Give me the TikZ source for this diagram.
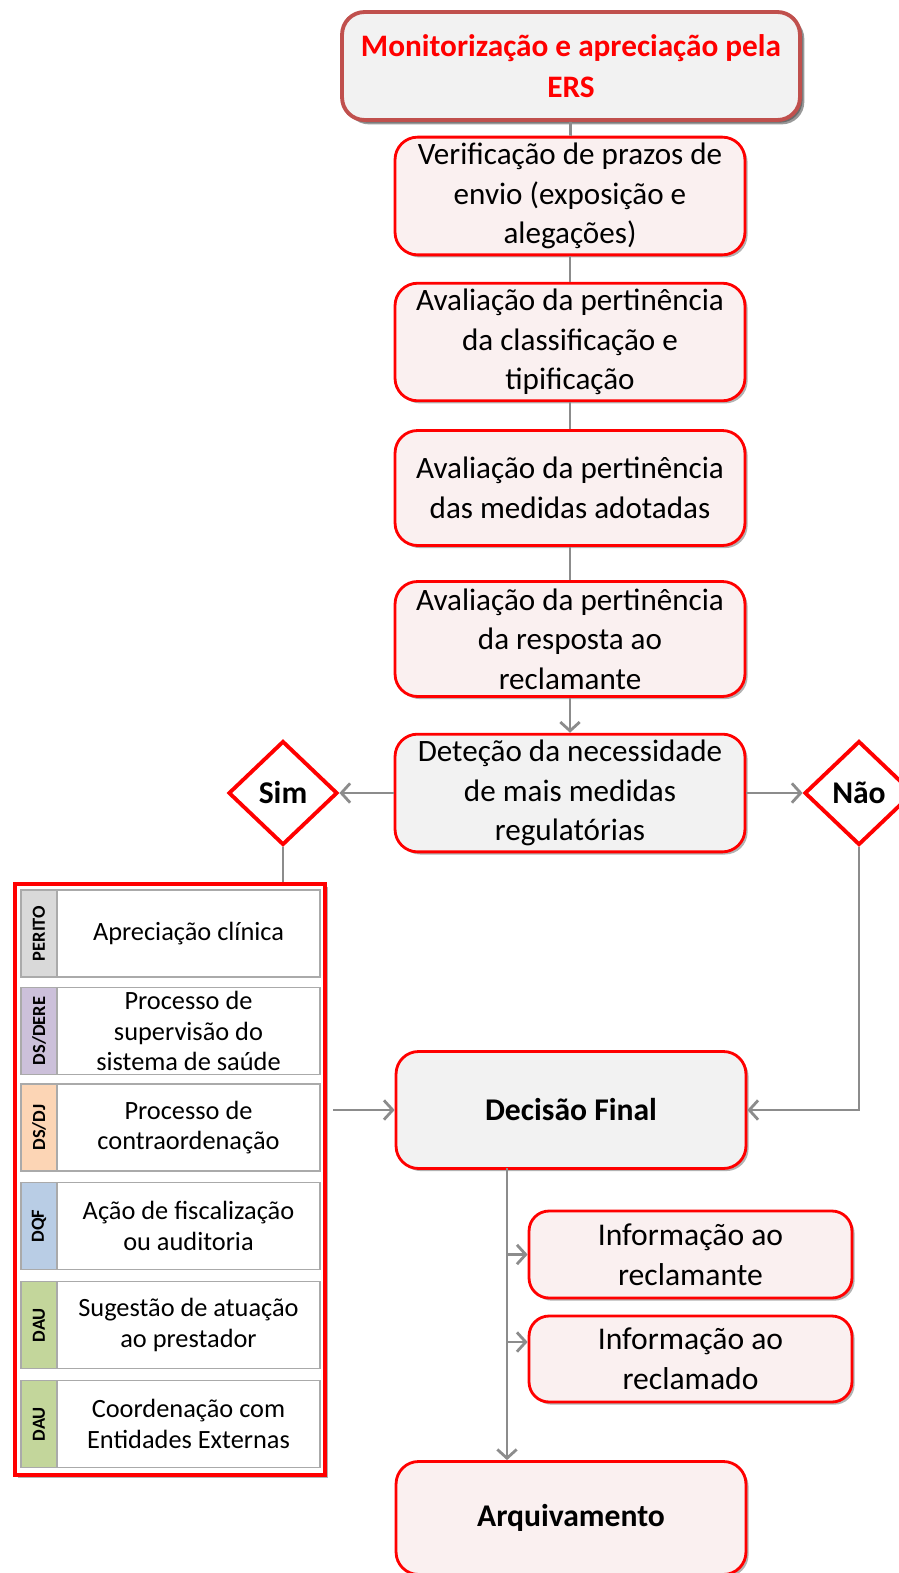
\documentclass[tikz,border=0pt]{standalone}
\usepackage{fontspec}
\setmainfont{Carlito}
\usetikzlibrary{shapes.geometric,arrows.meta,shadows}

\definecolor{vermelho}{RGB}{255,0,0}
\definecolor{bordo}{RGB}{192,80,77}
\definecolor{rosa}{RGB}{250,240,240}
\definecolor{cinza}{RGB}{242,242,242}
\definecolor{linha}{RGB}{140,140,140}
\definecolor{grelha}{RGB}{170,170,170}
\definecolor{corperito}{RGB}{217,217,217}
\definecolor{cordere}{RGB}{204,192,218}
\definecolor{cordj}{RGB}{252,213,181}
\definecolor{cordqf}{RGB}{185,205,229}
\definecolor{cordau}{RGB}{195,214,155}

\begin{document}
\begin{tikzpicture}[x=0.02cm, y=-0.02cm]
                \tikzstyle{sombra}=[drop shadow={shadow xshift=1.5pt, shadow yshift=-1.5pt, opacity=0.3, fill=black}]
                \tikzstyle{caixa}=[rectangle, rounded corners=0.45cm, draw=vermelho, line width=1.6pt, fill=rosa, sombra,
                                   minimum width=7cm, align=center, text=black, font=\fontsize{17.7}{22.5}\selectfont]
                \tikzstyle{losango}=[diamond, draw=vermelho, line width=2.2pt, fill=white, inner sep=0pt,
                                     minimum width=2.18cm, minimum height=2.08cm, font=\fontsize{18}{22}\selectfont\bfseries]
                \tikzstyle{sigla}=[rectangle, draw=grelha, line width=0.9pt, inner sep=0pt, minimum width=0.72cm,
                                   minimum height=1.74cm, font=\fontsize{10.5}{12}\selectfont\bfseries]
                \tikzstyle{tarefa}=[rectangle, draw=grelha, line width=0.9pt, fill=white, inner xsep=2pt, inner ysep=0pt,
                                    minimum width=5.26cm, minimum height=1.74cm, align=center, font=\fontsize{15}{17.5}\selectfont]
                \tikzstyle{liga}=[draw=linha, line width=1.6pt]
                \tikzstyle{seta}=[liga, -{Straight Barb[length=5pt, width=11pt, line width=1.6pt]}]

                \useasboundingbox (0,0) rectangle (899,1573);

                % coluna principal
                \node[caixa, draw=bordo, line width=2.2pt, fill=cinza, minimum width=9.16cm, minimum height=2.16cm,
                      text=vermelho, font=\fontsize{17.8}{23}\selectfont\bfseries,
                      drop shadow={shadow xshift=2.5pt, shadow yshift=-2.5pt, opacity=0.4, fill=black}]
                      (ers) at (571,66) {Monitorização e apreciação pela\\ERS};
                \node[caixa, minimum height=2.32cm] (verif) at (570,196) {Verificação de prazos de\\envio (exposição e\\alegações)};
                \node[caixa, minimum height=2.3cm] (classif) at (570,342) {Avaliação da pertinência\\da classificação e\\tipificação};
                \node[caixa, minimum height=2.3cm] (medidas) at (570,488) {Avaliação da pertinência\\das medidas adotadas};
                \node[caixa, minimum height=2.3cm] (resposta) at (570,639) {Avaliação da pertinência\\da resposta ao\\reclamante};
                \node[caixa, fill=cinza, minimum height=2.3cm] (detecao) at (570,793) {Deteção da necessidade\\de mais medidas\\regulatórias};

                \node[losango] (sim) at (283,793) {Sim};
                \node[losango] (nao) at (859,793) {Não};

                % painel das unidades
                \node[rectangle, draw=vermelho, line width=2.4pt, fill=white, sombra, minimum width=6.2cm, minimum height=11.82cm]
                      (painel) at (170,1179.5) {};

                \node[sigla, fill=corperito] (s1) at (39,933.5) {\rotatebox{90}{PERITO}};
                \node[tarefa] (t1) at (188.5,933.5) {Apreciação clínica};
                \node[sigla, fill=cordere] (s2) at (39,1031) {\rotatebox{90}{DS/DERE}};
                \node[tarefa] (t2) at (188.5,1031) {Processo de\\supervisão do\\sistema de saúde};
                \node[sigla, fill=cordj] (s3) at (39,1127.5) {\rotatebox{90}{DS/DJ}};
                \node[tarefa] (t3) at (188.5,1127.5) {Processo de\\contraordenação};
                \node[sigla, fill=cordqf] (s4) at (39,1226) {\rotatebox{90}{DQF}};
                \node[tarefa] (t4) at (188.5,1226) {Ação de fiscalização\\ou auditoria};
                \node[sigla, fill=cordau] (s5) at (39,1325) {\rotatebox{90}{DAU}};
                \node[tarefa] (t5) at (188.5,1325) {Sugestão de atuação\\ao prestador};
                \node[sigla, fill=cordau] (s6) at (39,1424) {\rotatebox{90}{DAU}};
                \node[tarefa] (t6) at (188.5,1424) {Coordenação com\\Entidades Externas};

                % decisao e arquivo
                \node[caixa, fill=cinza, minimum height=2.34cm, font=\fontsize{18}{22.5}\selectfont\bfseries] (final) at (571,1110) {Decisão Final};
                \node[caixa, rounded corners=0.4cm, minimum width=6.46cm, minimum height=1.74cm,
                      font=\fontsize{18}{22.5}\selectfont] (inforecl) at (690.5,1254.5) {Informação ao\\reclamante};
                \node[caixa, rounded corners=0.4cm, minimum width=6.46cm, minimum height=1.72cm,
                      font=\fontsize{18}{22.5}\selectfont] (inforecd) at (690.5,1359) {Informação ao\\reclamado};
                \node[caixa, minimum height=2.26cm, font=\fontsize{18}{22.5}\selectfont\bfseries] (arquiv) at (571,1518) {Arquivamento};

                \coordinate (tronco) at (507,1168);

                \draw[liga] (ers) -- (verif);
                \draw[liga] (verif) -- (classif);
                \draw[liga] (classif) -- (medidas);
                \draw[liga] (medidas) -- (resposta);
                \draw[seta] (resposta) -- (detecao);
                \draw[seta] (detecao) -- (sim);
                \draw[seta] (detecao) -- (nao);
                \draw[liga] (sim.south) -- (sim.south |- painel.north);
                \draw[seta, shorten <=0.12cm] (painel.east |- final.west) -- (final.west);
                \draw[seta] (nao.south) |- (final.east);
                \draw[seta] (tronco) -- (tronco |- arquiv.north);
                \draw[seta] (tronco |- inforecl.west) -- (inforecl.west);
                \draw[seta] (tronco |- 0,1342) -- (inforecd.west |- 0,1342);
            \end{tikzpicture}
\end{document}
